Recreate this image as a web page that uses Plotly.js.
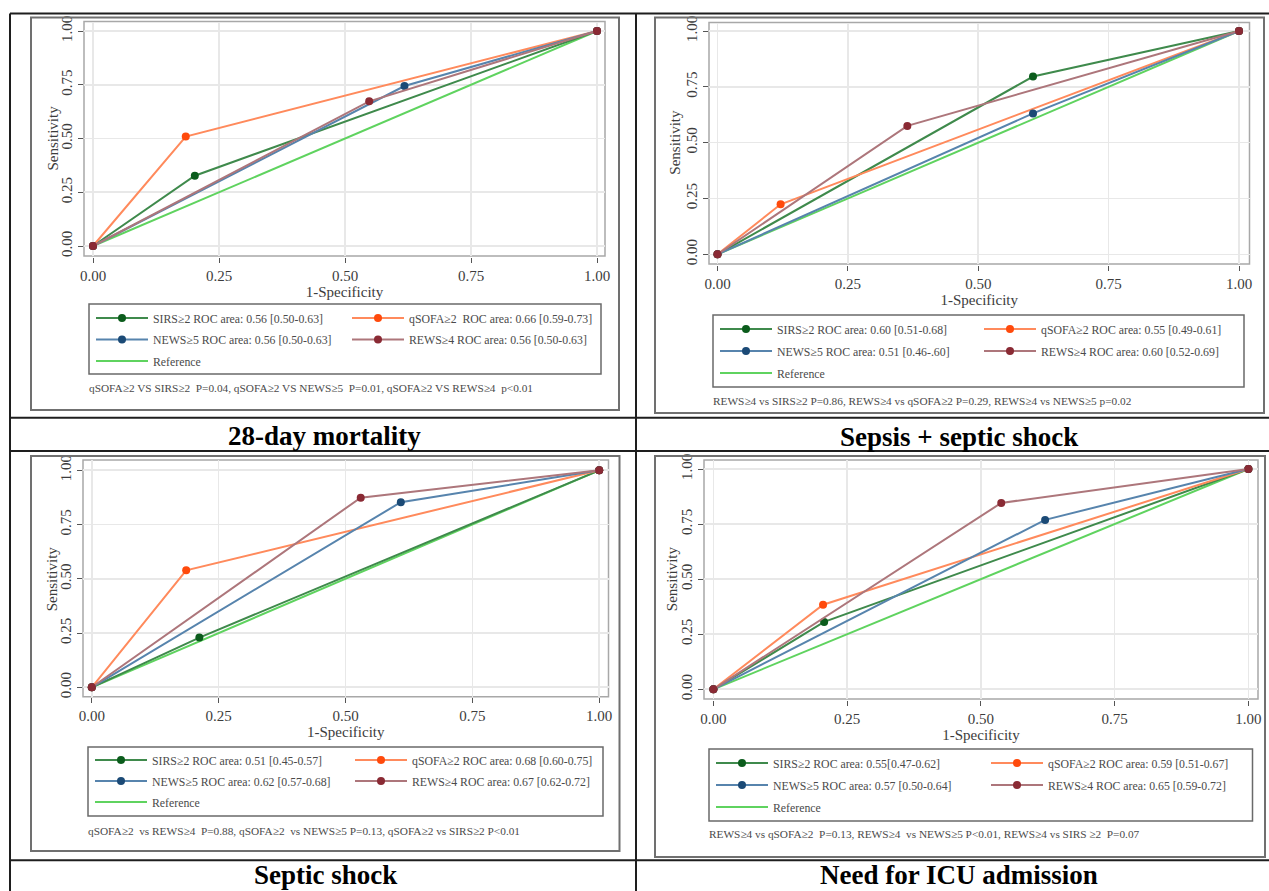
<!DOCTYPE html>
<html><head><meta charset="utf-8">
<script src="https://cdn.plot.ly/plotly-3.0.1.min.js"></script>
<style>html,body{margin:0;padding:0;background:#fff;}#chart{width:1269px;height:891px;}</style>
</head><body><div id="chart"></div>
<script>
// ---------------- data ----------------
const seriesNames = ['SIRS≥2', 'qSOFA≥2', 'NEWS≥5', 'REWS≥4'];
const referenceName = 'Reference';
const panelTitles = ['28-day mortality', 'Sepsis + septic shock', 'Septic shock', 'Need for ICU admission'];
const tickValues = [0, 0.25, 0.5, 0.75, 1];
const tickLabels = ['0.00', '0.25', '0.50', '0.75', '1.00'];
const xAxisTitle = '1-Specificity';
const yAxisTitle = 'Sensitivity';

// cut-point (1-specificity, sensitivity) for SIRS, qSOFA, NEWS, REWS
const mortalityFPR = [0.202, 0.184, 0.618, 0.548];
const mortalityTPR = [0.327, 0.509, 0.744, 0.673];
const sepsisFPR = [0.605, 0.121, 0.605, 0.364];
const sepsisTPR = [0.796, 0.224, 0.631, 0.575];
const shockFPR = [0.212, 0.186, 0.609, 0.530];
const shockTPR = [0.229, 0.539, 0.853, 0.874];
const icuFPR = [0.207, 0.205, 0.620, 0.538];
const icuTPR = [0.306, 0.384, 0.769, 0.846];
const curveStart = [0, 0];
const curveEnd = [1, 1];

const mortalityLabels = ['SIRS≥2 ROC area: 0.56 [0.50-0.63]', 'qSOFA≥2  ROC area: 0.66 [0.59-0.73]', 'NEWS≥5 ROC area: 0.56 [0.50-0.63]', 'REWS≥4 ROC area: 0.56 [0.50-0.63]'];
const sepsisLabels = ['SIRS≥2 ROC area: 0.60 [0.51-0.68]', 'qSOFA≥2 ROC area: 0.55 [0.49-0.61]', 'NEWS≥5 ROC area: 0.51 [0.46-.60]', 'REWS≥4 ROC area: 0.60 [0.52-0.69]'];
const shockLabels = ['SIRS≥2 ROC area: 0.51 [0.45-0.57]', 'qSOFA≥2 ROC area: 0.68 [0.60-0.75]', 'NEWS≥5 ROC area: 0.62 [0.57-0.68]', 'REWS≥4 ROC area: 0.67 [0.62-0.72]'];
const icuLabels = ['SIRS≥2 ROC area: 0.55[0.47-0.62]', 'qSOFA≥2 ROC area: 0.59 [0.51-0.67]', 'NEWS≥5 ROC area: 0.57 [0.50-0.64]', 'REWS≥4 ROC area: 0.65 [0.59-0.72]'];

const mortalityNote = 'qSOFA≥2 VS SIRS≥2  P=0.04, qSOFA≥2 VS NEWS≥5  P=0.01, qSOFA≥2 VS REWS≥4  p<0.01';
const sepsisNote = 'REWS≥4 vs SIRS≥2 P=0.86, REWS≥4 vs qSOFA≥2 P=0.29, REWS≥4 vs NEWS≥5 p=0.02';
const shockNote = 'qSOFA≥2  vs REWS≥4  P=0.88, qSOFA≥2  vs NEWS≥5 P=0.13, qSOFA≥2 vs SIRS≥2 P<0.01';
const icuNote = 'REWS≥4 vs qSOFA≥2  P=0.13, REWS≥4  vs NEWS≥5 P<0.01, REWS≥4 vs SIRS ≥2  P=0.07';

// ---------------- styles ----------------
const lineColors = ['#3f8a4c', '#ff8a5c', '#5784ad', '#ad767b'];
const markerColors = ['#0b5c1c', '#ff4a0c', '#1b4a76', '#8a2a34'];
const referenceColor = '#5fd35f';
const SERIF = 'Liberation Serif, Times New Roman, serif';
const TXT = '#3c3c3c';

const W = 1269, H = 891;
const px = v => v / W;
const py = v => 1 - v / H;

const panels = [
  {fpr: mortalityFPR, tpr: mortalityTPR, labels: mortalityLabels, note: mortalityNote, title: panelTitles[0],
   frame: [31, 619, 17.5, 410], axes: [84, 605, 21.5, 256], x0: 93, x1: 597, y1: 31, y0: 246, ytitleX: 53,
   lbox: [89, 601, 304, 374], rows: [318, 339.5, 361], col1: 96, col2: 352, notePos: [86.5, 388], cap: [324, 436]},
  {fpr: sepsisFPR, tpr: sepsisTPR, labels: sepsisLabels, note: sepsisNote, title: panelTitles[1],
   frame: [655, 1264, 17.5, 413], axes: [709, 1249.5, 22.5, 264], x0: 717.5, x1: 1239, y1: 31, y0: 254.3, ytitleX: 675,
   lbox: [713, 1244, 315, 387], rows: [329, 351, 373], col1: 720, col2: 984, notePos: [711, 401], cap: [959, 437]},
  {fpr: shockFPR, tpr: shockTPR, labels: shockLabels, note: shockNote, title: panelTitles[2],
   frame: [31, 619.5, 456, 851], axes: [83, 608.5, 460, 696.7], x0: 91.8, x1: 599.2, y1: 470.3, y0: 687.3, ytitleX: 51.5,
   lbox: [88, 603, 747, 816], rows: [760, 781, 802], col1: 95, col2: 355, notePos: [86, 831], cap: [325, 875]},
  {fpr: icuFPR, tpr: icuTPR, labels: icuLabels, note: icuNote, title: panelTitles[3],
   frame: [655, 1265, 456, 857], axes: [704, 1258, 460, 699], x0: 713.4, x1: 1248.4, y1: 469, y0: 689.3, ytitleX: 672,
   lbox: [709, 1252.5, 749, 821], rows: [763, 785, 807], col1: 716, col2: 991, notePos: [707, 834], cap: [959, 875]}
];

const traces = [];
const shapes = [];
const annotations = [];
const layout = {
  width: W, height: H,
  margin: {l: 0, r: 0, t: 0, b: 0},
  paper_bgcolor: '#ffffff', plot_bgcolor: '#ffffff',
  showlegend: true,
  font: {family: SERIF, color: TXT}
};

const ITEMW = 52;
const ITEMH = 19;

panels.forEach((p, i) => {
  const n = i + 1;
  const xa = n === 1 ? 'x' : 'x' + n;
  const ya = n === 1 ? 'y' : 'y' + n;
  const xKey = n === 1 ? 'xaxis' : 'xaxis' + n;
  const yKey = n === 1 ? 'yaxis' : 'yaxis' + n;
  const legL = i === 0 ? 'legend' : 'legend' + (2 * i + 1);
  const legR = 'legend' + (2 * i + 2);
  const [L, R, T, B] = p.axes;
  const ux = p.x1 - p.x0, uy = p.y0 - p.y1;

  const axisCommon = {
    tickvals: tickValues, ticktext: tickLabels,
    showgrid: true, gridcolor: '#e8e8e8', gridwidth: 1.6,
    zeroline: false,
    ticks: 'outside', ticklen: 5, tickwidth: 1, tickcolor: '#555',
    showline: true, linecolor: '#4a4a4a', linewidth: 1.5, mirror: false,
    tickfont: {family: SERIF, size: 15, color: TXT},
    fixedrange: true
  };
  layout[xKey] = Object.assign({}, axisCommon, {
    domain: [px(L), px(R)],
    range: [(L - p.x0) / ux, (R - p.x0) / ux],
    anchor: ya,
    title: {text: xAxisTitle, font: {family: SERIF, size: 15, color: TXT}, standoff: 0}
  });
  layout[yKey] = Object.assign({}, axisCommon, {
    domain: [py(B), py(T)],
    range: [(p.y0 - B) / uy, (p.y0 - T) / uy],
    anchor: xa,
    tickangle: -90
  });

  // y-axis title (placed as rotated text next to the tick labels)
  annotations.push({xref: 'paper', yref: ya, x: px(p.ytitleX), y: 0.5,
    xanchor: 'center', yanchor: 'middle', textangle: -90, showarrow: false, text: yAxisTitle,
    font: {family: SERIF, size: 15, color: TXT}});

  // reference line
  traces.push({
    type: 'scatter', mode: 'lines', xaxis: xa, yaxis: ya,
    x: [curveStart[0], curveEnd[0]], y: [curveStart[1], curveEnd[1]],
    name: referenceName, legend: legL, legendgroup: 'p' + n + 'ref', legendrank: 3,
    line: {color: referenceColor, width: 2}, zorder: 0, hoverinfo: 'skip'
  });
  // ROC curves
  seriesNames.forEach((s, k) => {
    traces.push({
      type: 'scatter', mode: 'lines+markers', xaxis: xa, yaxis: ya,
      x: [curveStart[0], p.fpr[k], curveEnd[0]],
      y: [curveStart[1], p.tpr[k], curveEnd[1]],
      name: p.labels[k],
      legend: (k % 2 === 0) ? legL : legR,
      legendgroup: 'p' + n + 's' + k,
      legendrank: Math.floor(k / 2) + 1,
      line: {color: lineColors[k], width: 2},
      marker: {color: markerColors[k], size: 8},
      zorder: k + 1, cliponaxis: false
    });
  });

  const gap = (p.rows[1] - p.rows[0]) - ITEMH;
  const legCommon = {
    orientation: 'v', xanchor: 'left', yanchor: 'top',
    bgcolor: 'rgba(0,0,0,0)', borderwidth: 0,
    itemwidth: ITEMW, traceorder: 'grouped', tracegroupgap: gap,
    font: {family: SERIF, size: 11.8, color: '#4a4a4a'},
    itemclick: false, itemdoubleclick: false
  };
  layout[legL] = Object.assign({}, legCommon, {x: px(p.col1 - 5), y: py(p.rows[0] - ITEMH / 2 - 5)});
  layout[legR] = Object.assign({}, legCommon, {x: px(p.col2 - 5), y: py(p.rows[0] - ITEMH / 2 - 5)});

  // plot region outline (light top/right)
  shapes.push({type: 'rect', xref: xa + ' domain', yref: ya + ' domain', x0: 0, x1: 1, y0: 0, y1: 1,
    line: {color: '#a8a8a8', width: 1.5}, layer: 'below'});
  // graph region frame
  shapes.push({type: 'rect', xref: 'paper', yref: 'paper',
    x0: px(p.frame[0]), x1: px(p.frame[1]), y0: py(p.frame[3]), y1: py(p.frame[2]),
    line: {color: '#707070', width: 2}});
  // legend box
  shapes.push({type: 'rect', xref: 'paper', yref: 'paper',
    x0: px(p.lbox[0]), x1: px(p.lbox[1]), y0: py(p.lbox[3]), y1: py(p.lbox[2]),
    line: {color: '#6a6a6a', width: 1.5}});

  annotations.push({xref: 'paper', yref: 'paper', x: px(p.notePos[0]), y: py(p.notePos[1]),
    xanchor: 'left', yanchor: 'middle', showarrow: false, text: p.note,
    font: {family: SERIF, size: 11.3, color: '#4a4a4a'}});
  annotations.push({xref: 'paper', yref: 'paper', x: px(p.cap[0]), y: py(p.cap[1]),
    xanchor: 'center', yanchor: 'middle', showarrow: false, text: '<b>' + p.title + '</b>',
    font: {family: SERIF, size: 27, color: '#000'}});
});

// table grid lines
const tableLine = {color: '#1e1e1e', width: 2};
[[10, 1269, 13.5, 13.5], [10, 1269, 417.7, 417.7], [10, 1269, 451, 451], [10, 1269, 860.3, 860.3],
 [10, 10, 13.5, 891], [636, 636, 13.5, 891]].forEach(s => {
  shapes.push({type: 'line', xref: 'paper', yref: 'paper', x0: px(s[0]), x1: px(s[1]), y0: py(s[2]), y1: py(s[3]), line: tableLine});
});

layout.shapes = shapes;
layout.annotations = annotations;

Plotly.newPlot('chart', traces, layout, {staticPlot: true, displayModeBar: false});
</script></body></html>
